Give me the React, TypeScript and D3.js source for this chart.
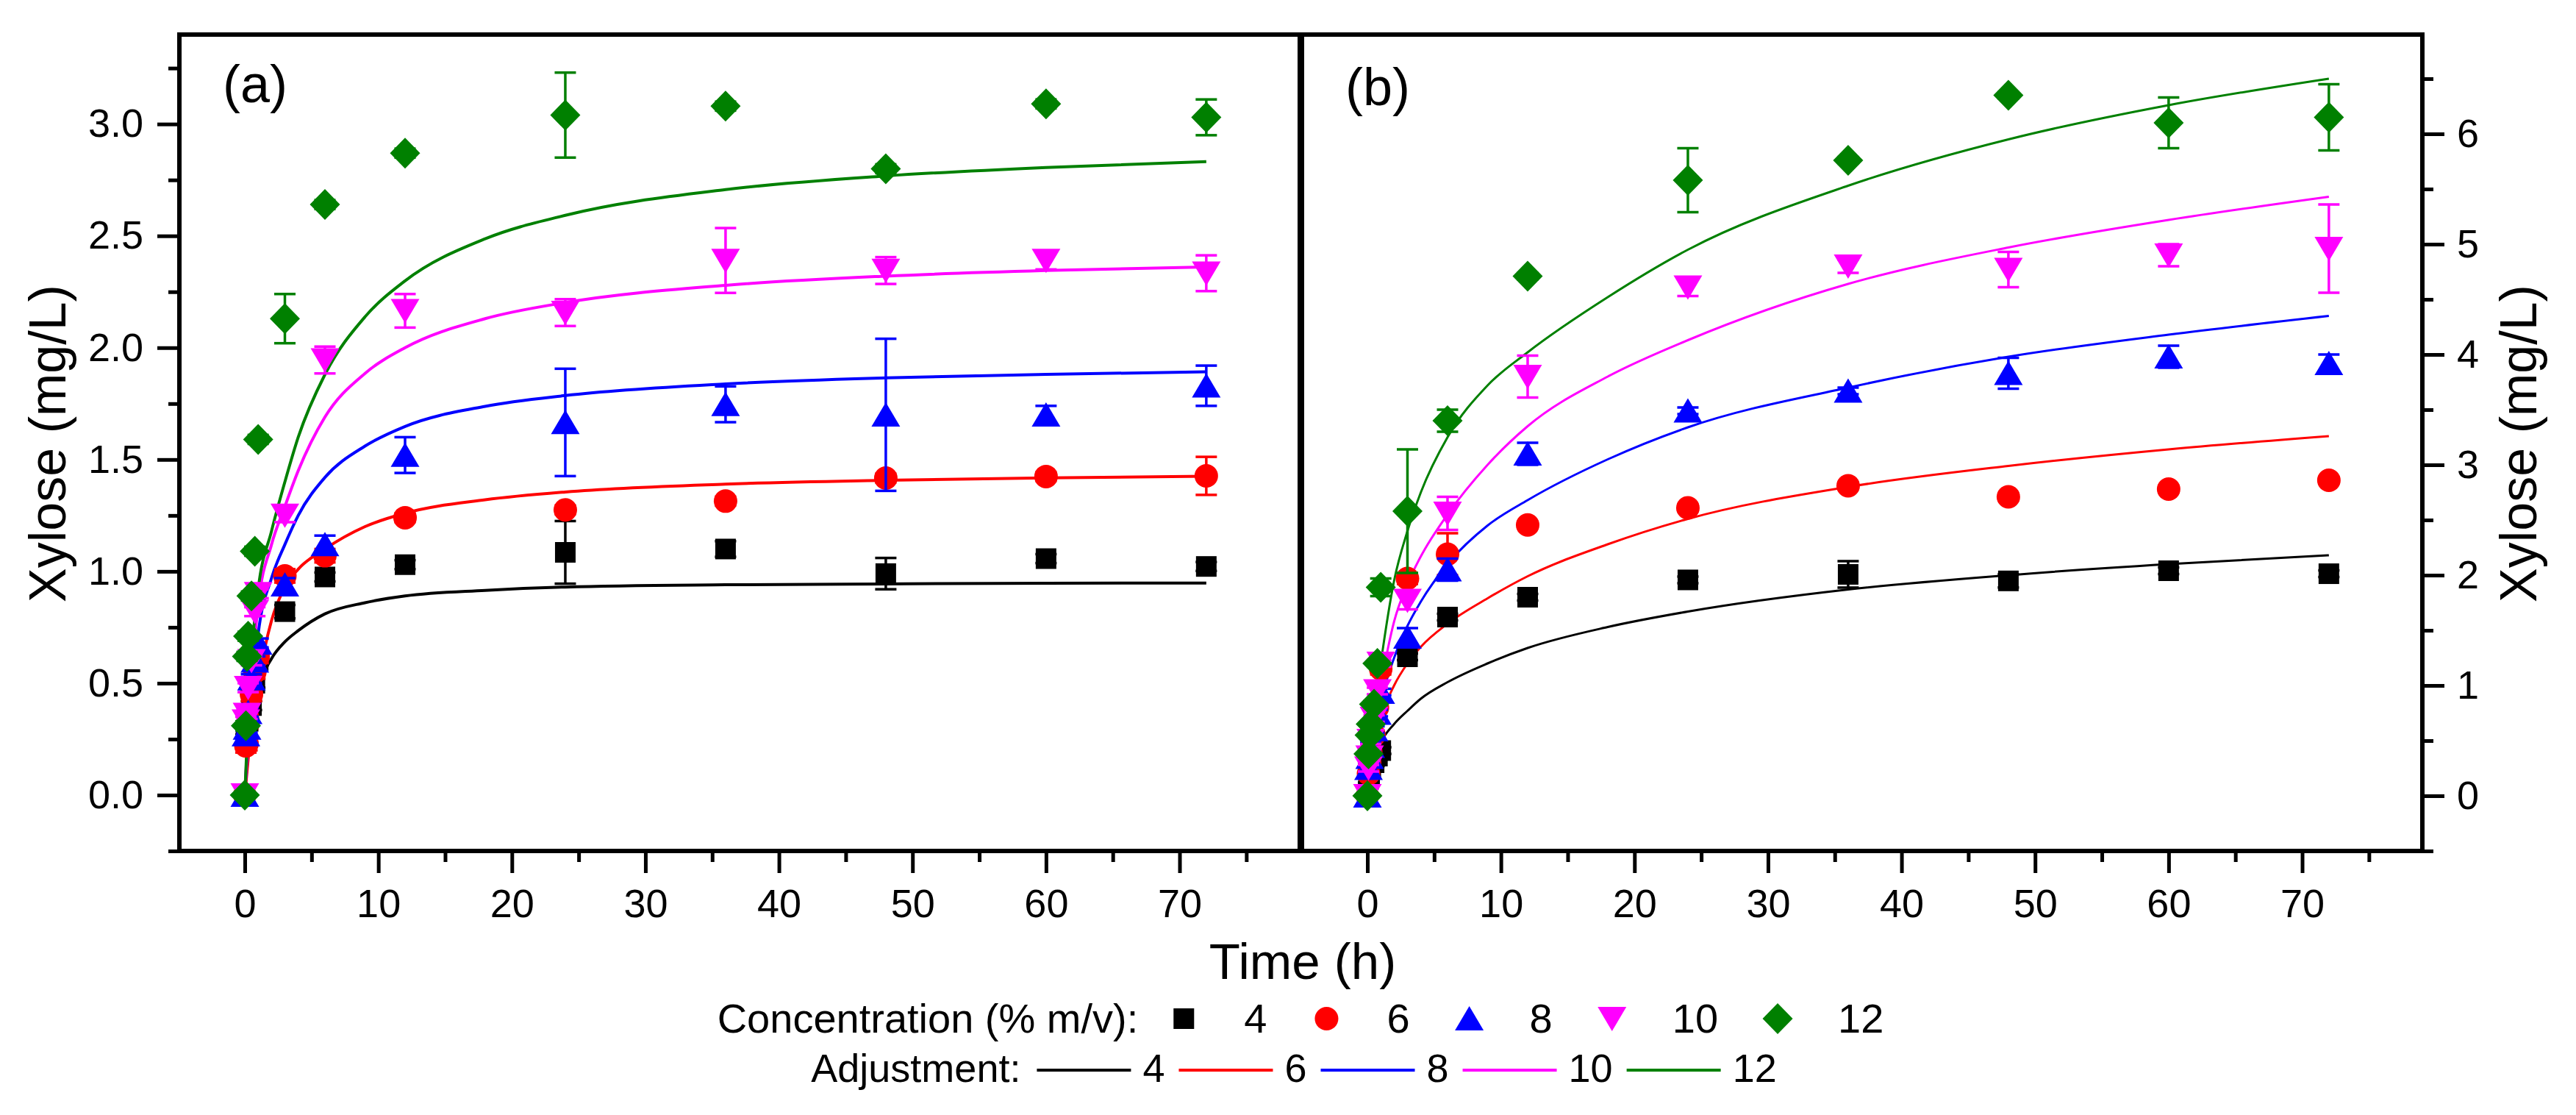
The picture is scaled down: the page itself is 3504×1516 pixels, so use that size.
import React, { useEffect, useRef } from "react";
import * as d3 from "d3";

// sampling times (h)
const timeH = [0, 0.083, 0.167, 0.25, 0.5, 0.75, 1, 3, 6, 12, 24, 36, 48, 60, 72];
const fitTime = [0, 0.25, 0.5, 1, 2, 3, 4, 6, 9, 12, 18, 24, 36, 48, 60, 72];

const concentrations = ["4", "6", "8", "10", "12"];
const seriesColors = ["#000000", "#ff0000", "#0000ff", "#ff00ff", "#008000"];
const markerShapes = ["square", "circle", "triangle", "invTriangle", "diamond"];

// panel (a) measured xylose (mg/L)
const a4 = [0, 0.25, 0.28, 0.33, 0.4, 0.5, 0.6, 0.82, 0.975, 1.03, 1.085, 1.1, 0.99, 1.057, 1.022];
const a6 = [0, 0.22, 0.23, 0.33, 0.45, 0.55, 0.62, 0.98, 1.07, 1.24, 1.275, 1.314, 1.417, 1.424, 1.427];
const a8 = [0, 0.27, 0.3, 0.37, 0.52, 0.6, 0.68, 0.94, 1.12, 1.52, 1.666, 1.747, 1.7, 1.7, 1.83];
const a10 = [0, 0.33, 0.36, 0.48, 0.6, 0.82, 0.9, 1.25, 1.945, 2.165, 2.157, 2.39, 2.345, 2.39, 2.333];
const a12 = [0, 0.31, 0.62, 0.71, 0.89, 1.09, 1.59, 2.13, 2.64, 2.87, 3.04, 3.08, 2.8, 3.09, 3.03];

const a4Err = [0, 0.02, 0.02, 0.02, 0.02, 0.02, 0.02, 0.03, 0.02, 0.02, 0.14, 0.035, 0.07, 0.02, 0.02];
const a6Err = [0, 0.03, 0.03, 0.03, 0.03, 0.03, 0.03, 0.03, 0.03, 0.02, 0.02, 0.02, 0.02, 0.02, 0.085];
const a8Err = [0, 0.02, 0.02, 0.02, 0.02, 0.02, 0.02, 0.03, 0.04, 0.08, 0.24, 0.08, 0.34, 0.04, 0.09];
const a10Err = [0, 0.02, 0.02, 0.02, 0.02, 0.02, 0.02, 0.03, 0.06, 0.075, 0.06, 0.145, 0.06, 0.04, 0.08];
const a12Err = [0, 0.02, 0.02, 0.02, 0.02, 0.02, 0.02, 0.11, 0.02, 0.02, 0.19, 0.02, 0.02, 0.02, 0.08];

// panel (a) adjusted curves
const a4Fit = [0, 0.2, 0.33, 0.475, 0.61, 0.685, 0.735, 0.81, 0.86, 0.89, 0.915, 0.93, 0.94, 0.944, 0.947, 0.948];
const a6Fit = [0, 0.16, 0.3, 0.5, 0.78, 0.93, 1.01, 1.1, 1.2, 1.26, 1.32, 1.355, 1.39, 1.407, 1.418, 1.425];
const a8Fit = [0, 0.25, 0.42, 0.72, 0.97, 1.12, 1.25, 1.42, 1.56, 1.648, 1.738, 1.786, 1.838, 1.865, 1.881, 1.892];
const a10Fit = [0, 0.3, 0.52, 0.85, 1.12, 1.29, 1.45, 1.69, 1.885, 2.0, 2.13, 2.202, 2.279, 2.32, 2.345, 2.361];
const a12Fit = [0, 0.35, 0.62, 0.92, 1.18, 1.4, 1.6, 1.88, 2.138, 2.299, 2.487, 2.592, 2.707, 2.768, 2.806, 2.832];

// panel (b) measured xylose (mg/L)
const b4 = [0, 0.15, 0.2, 0.26, 0.3, 0.36, 0.41, 1.26, 1.62, 1.8, 1.957, 2.007, 1.948, 2.04, 2.013];
const b6 = [0, 0.2, 0.3, 0.4, 0.55, 0.8, 1.15, 1.97, 2.19, 2.455, 2.61, 2.81, 2.71, 2.78, 2.86];
const b8 = [0, 0.25, 0.35, 0.45, 0.6, 0.75, 0.94, 1.44, 2.05, 3.1, 3.49, 3.67, 3.83, 3.98, 3.92];
const b10 = [0, 0.25, 0.35, 0.5, 0.7, 0.95, 1.2, 1.77, 2.56, 3.8, 4.61, 4.8, 4.77, 4.9, 4.96];
const b12 = [0, 0.38, 0.55, 0.65, 0.83, 1.2, 1.89, 2.58, 3.4, 4.71, 5.58, 5.76, 6.35, 6.1, 6.15];

const b4Err = [0, 0.03, 0.03, 0.03, 0.03, 0.03, 0.03, 0.03, 0.03, 0.03, 0.03, 0.12, 0.06, 0.03, 0.03];
const b6Err = [0, 0.03, 0.03, 0.03, 0.03, 0.03, 0.05, 0.05, 0.19, 0.03, 0.03, 0.03, 0.03, 0.03, 0.03];
const b8Err = [0, 0.03, 0.03, 0.03, 0.03, 0.03, 0.03, 0.08, 0.1, 0.1, 0.03, 0.03, 0.14, 0.1, 0.08];
const b10Err = [0, 0.03, 0.03, 0.03, 0.03, 0.03, 0.03, 0.08, 0.15, 0.19, 0.08, 0.06, 0.16, 0.1, 0.4];
const b12Err = [0, 0.03, 0.03, 0.03, 0.03, 0.03, 0.08, 0.56, 0.1, 0.03, 0.29, 0.03, 0.03, 0.23, 0.3];

// panel (b) adjusted curves
const b4Fit = [0, 0.2, 0.32, 0.48, 0.65, 0.77, 0.88, 1.03, 1.2, 1.34, 1.53, 1.67, 1.87, 2.0, 2.1, 2.18];
const b6Fit = [0, 0.3, 0.45, 0.7, 1.0, 1.2, 1.35, 1.56, 1.79, 1.99, 2.28, 2.51, 2.8, 2.99, 3.14, 3.26];
const b8Fit = [0, 0.35, 0.55, 0.85, 1.25, 1.54, 1.76, 2.1, 2.45, 2.68, 3.05, 3.34, 3.7, 3.98, 4.18, 4.35];
const b10Fit = [0, 0.4, 0.65, 1.0, 1.58, 1.92, 2.17, 2.55, 3.0, 3.35, 3.8, 4.13, 4.64, 4.97, 5.22, 5.43];
const b12Fit = [0, 0.45, 0.75, 1.2, 1.95, 2.4, 2.75, 3.25, 3.72, 4.02, 4.52, 4.95, 5.53, 5.95, 6.26, 6.5];

// axis ticks
const xMajor = [0, 10, 20, 30, 40, 50, 60, 70];
const xMinor = [5, 15, 25, 35, 45, 55, 65, 75];
const yMajorA = [0, 0.5, 1, 1.5, 2, 2.5, 3];
const yMinorA = [-0.25, 0.25, 0.75, 1.25, 1.75, 2.25, 2.75, 3.25];
const yMajorB = [0, 1, 2, 3, 4, 5, 6];
const yMinorB = [-0.5, 0.5, 1.5, 2.5, 3.5, 4.5, 5.5, 6.5];

const FONT = "'Liberation Sans', Arial, Helvetica, sans-serif";
const TOP = 47;
const BOTTOM = 1157;

function markerPath(shape: string, cx: number, cy: number): string {
  const p = d3.path();
  if (shape === "square") {
    p.rect(cx - 14, cy - 14, 28, 28);
  } else if (shape === "circle") {
    p.moveTo(cx + 16, cy);
    p.arc(cx, cy, 16, 0, 2 * Math.PI);
  } else if (shape === "triangle") {
    p.moveTo(cx, cy - 17);
    p.lineTo(cx + 19.5, cy + 16);
    p.lineTo(cx - 19.5, cy + 16);
    p.closePath();
  } else if (shape === "invTriangle") {
    p.moveTo(cx, cy + 17);
    p.lineTo(cx + 19.5, cy - 16);
    p.lineTo(cx - 19.5, cy - 16);
    p.closePath();
  } else {
    p.moveTo(cx, cy - 21);
    p.lineTo(cx + 20.5, cy);
    p.lineTo(cx, cy + 21);
    p.lineTo(cx - 20.5, cy);
    p.closePath();
  }
  return p.toString();
}

export default function App() {
  const ref = useRef<SVGSVGElement>(null);

  useEffect(() => {
    const svg = d3.select(ref.current);
    svg.selectAll("*").remove();

    const panels = [
      {
        tag: "(a)", left: 244, right: 1768, yDomain: [-0.25, 3.4], lineWidth: 4,
        values: [a4, a6, a8, a10, a12], errors: [a4Err, a6Err, a8Err, a10Err, a12Err],
        fits: [a4Fit, a6Fit, a8Fit, a10Fit, a12Fit],
        yMajor: yMajorA, yMinor: yMinorA, side: "left", fmt: d3.format(".1f"), tagY: 139,
      },
      {
        tag: "(b)", left: 1771, right: 3295, yDomain: [-0.5, 6.9], lineWidth: 3,
        values: [b4, b6, b8, b10, b12], errors: [b4Err, b6Err, b8Err, b10Err, b12Err],
        fits: [b4Fit, b6Fit, b8Fit, b10Fit, b12Fit],
        yMajor: yMajorB, yMinor: yMinorB, side: "right", fmt: d3.format("d"), tagY: 143,
      },
    ];

    panels.forEach((p) => {
      const x = d3.scaleLinear().domain([-4.9, 79]).range([p.left, p.right]);
      const y = d3.scaleLinear().domain(p.yDomain).range([BOTTOM, TOP]);
      const g = svg.append("g");

      // adjusted curves
      const line = d3.line<number>()
        .x((_, i) => x(fitTime[i]))
        .y((d) => y(d))
        .curve(d3.curveMonotoneX);
      p.fits.forEach((f, k) => {
        g.append("path")
          .attr("d", line(f))
          .attr("fill", "none")
          .attr("stroke", seriesColors[k])
          .attr("stroke-width", p.lineWidth);
      });

      // points with error bars
      p.values.forEach((vals, k) => {
        const color = seriesColors[k];
        const sg = g.append("g");
        vals.forEach((v, i) => {
          const cx = x(timeH[i]);
          const e = p.errors[k][i];
          if (e > 0) {
            const y0 = y(v - e);
            const y1 = y(v + e);
            sg.append("line").attr("x1", cx).attr("x2", cx).attr("y1", y0).attr("y2", y1)
              .attr("stroke", color).attr("stroke-width", 3.5);
            [y0, y1].forEach((yy) => {
              sg.append("line").attr("x1", cx - 14.5).attr("x2", cx + 14.5).attr("y1", yy).attr("y2", yy)
                .attr("stroke", color).attr("stroke-width", 3.5);
            });
          }
          sg.append("path").attr("d", markerPath(markerShapes[k], cx, y(v))).attr("fill", color);
        });
      });

      // frame
      g.append("rect")
        .attr("x", p.left).attr("y", TOP)
        .attr("width", p.right - p.left).attr("height", BOTTOM - TOP)
        .attr("fill", "none").attr("stroke", "#000").attr("stroke-width", 6);

      // x axis
      const xa = g.append("g").attr("transform", `translate(0,${BOTTOM})`)
        .call(d3.axisBottom(x).tickValues(xMajor).tickSize(30).tickFormat(d3.format("d")));
      xa.selectAll("text").attr("y", 90).attr("dy", null);
      const xm = g.append("g").attr("transform", `translate(0,${BOTTOM})`)
        .call(d3.axisBottom(x).tickValues(xMinor).tickSize(15).tickFormat(() => ""));

      // y axis
      const yAxis = p.side === "left" ? d3.axisLeft(y) : d3.axisRight(y);
      const yAxisMinor = p.side === "left" ? d3.axisLeft(y) : d3.axisRight(y);
      const yx = p.side === "left" ? p.left : p.right;
      const ya = g.append("g").attr("transform", `translate(${yx},0)`)
        .call(yAxis.tickValues(p.yMajor).tickSize(30).tickPadding(p.side === "left" ? 19 : 17)
          .tickFormat((d) => p.fmt(d as number)));
      const ym = g.append("g").attr("transform", `translate(${yx},0)`)
        .call(yAxisMinor.tickValues(p.yMinor).tickSize(15).tickFormat(() => ""));

      [xa, xm, ya, ym].forEach((ax) => {
        ax.select(".domain").remove();
        ax.attr("font-size", 54).attr("font-family", FONT);
        ax.selectAll("line").attr("stroke", "#000").attr("stroke-width", 5);
        ax.selectAll("text").attr("fill", "#000");
      });

      g.append("text")
        .attr("x", p.left + 59).attr("y", p.tagY)
        .attr("font-family", FONT).attr("font-size", 72)
        .text(p.tag);
    });

    // axis titles
    const mid = (TOP + BOTTOM) / 2 + 1;
    [89, 3450].forEach((bx) => {
      svg.append("text")
        .attr("transform", `translate(${bx},${mid}) rotate(-90)`)
        .attr("text-anchor", "middle")
        .attr("font-family", FONT).attr("font-size", 70)
        .text("Xylose (mg/L)");
    });
    svg.append("text")
      .attr("x", 1772).attr("y", 1331)
      .attr("text-anchor", "middle")
      .attr("font-family", FONT).attr("font-size", 69)
      .text("Time (h)");

    // legend row 1: markers
    const row1 = svg.append("g").attr("font-family", FONT).attr("font-size", 56);
    const lab1 = row1.append("text").attr("x", 0).attr("y", 1404).text("Concentration (% m/v):");
    let cur = (lab1.node() as SVGTextElement).getComputedTextLength() + 62;
    concentrations.forEach((c, k) => {
      row1.append("path").attr("d", markerPath(markerShapes[k], cur, 1385)).attr("fill", seriesColors[k]);
      const t = row1.append("text").attr("x", cur + 82).attr("y", 1404).text(c);
      cur = cur + 82 + (t.node() as SVGTextElement).getComputedTextLength() + 81;
    });
    const bb1 = (row1.node() as SVGGElement).getBBox();
    row1.attr("transform", `translate(${1769 - bb1.width / 2 - bb1.x},0)`);

    // legend row 2: lines
    const row2 = svg.append("g").attr("font-family", FONT).attr("font-size", 54);
    const lab2 = row2.append("text").attr("x", 0).attr("y", 1471).text("Adjustment:");
    cur = (lab2.node() as SVGTextElement).getComputedTextLength() + 22;
    concentrations.forEach((c, k) => {
      row2.append("line").attr("x1", cur).attr("x2", cur + 128).attr("y1", 1455).attr("y2", 1455)
        .attr("stroke", seriesColors[k]).attr("stroke-width", 4);
      const t = row2.append("text").attr("x", cur + 144).attr("y", 1471).text(c);
      cur = cur + 144 + (t.node() as SVGTextElement).getComputedTextLength() + 19;
    });
    const bb2 = (row2.node() as SVGGElement).getBBox();
    row2.attr("transform", `translate(${1760 - bb2.width / 2 - bb2.x},0)`);
  }, []);

  return (
    <svg
      ref={ref}
      width={3504}
      height={1516}
      style={{ position: "absolute", left: 0, top: 0, background: "#ffffff" }}
    />
  );
}
